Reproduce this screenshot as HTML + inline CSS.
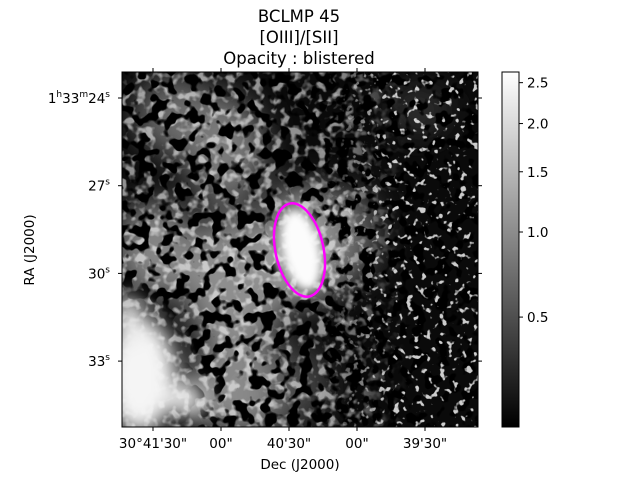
<!DOCTYPE html>
<html><head><meta charset="utf-8"><style>
body{margin:0;background:#fff;}
svg text{font-family:"DejaVu Sans","Liberation Sans",sans-serif;fill:#000;}
</style></head><body>
<svg id="fig" width="640" height="480" viewBox="0 0 640 480" xmlns="http://www.w3.org/2000/svg">
<defs>
<filter id="blur" x="-30%" y="-30%" width="160%" height="160%"><feGaussianBlur stdDeviation="16"/></filter>
<filter id="blur2" x="-30%" y="-30%" width="160%" height="160%"><feGaussianBlur stdDeviation="10"/></filter>
<filter id="blur3" x="-30%" y="-30%" width="160%" height="160%"><feGaussianBlur stdDeviation="4"/></filter>
<filter id="spots" x="0" y="0" width="100%" height="100%">
<feTurbulence type="fractalNoise" baseFrequency="0.08" numOctaves="2" seed="7" result="n"/>
<feColorMatrix in="n" type="matrix" values="0 0 0 0 0  0 0 0 0 0  0 0 0 0 0  0 0 0 -12 5.8"/>
</filter>
<filter id="mottle" x="0" y="0" width="100%" height="100%">
<feTurbulence type="fractalNoise" baseFrequency="0.11" numOctaves="2" seed="11" result="n"/>
<feColorMatrix in="n" type="matrix" values="0 0 0 0 1  0 0 0 0 1  0 0 0 0 1  0 0 0 5 -2.4"/>
</filter>
<filter id="flecks" x="0" y="0" width="100%" height="100%">
<feTurbulence type="fractalNoise" baseFrequency="0.15" numOctaves="2" seed="3" result="n"/>
<feColorMatrix in="n" type="matrix" values="0 0 0 0 1  0 0 0 0 1  0 0 0 0 1  0 0 0 10 -6.2"/>
</filter>
<radialGradient id="maskgrad" cx="0.5" cy="0.5" r="0.5">
<stop offset="0" stop-color="#000"/><stop offset="0.7" stop-color="#000"/><stop offset="1" stop-color="#fff"/>
</radialGradient>
<linearGradient id="fleckgrad" x1="0" y1="0" x2="1" y2="0">
<stop offset="0" stop-color="#000"/><stop offset="0.55" stop-color="#000"/><stop offset="0.75" stop-color="#fff"/><stop offset="1" stop-color="#fff"/>
</linearGradient>
<linearGradient id="mottlegrad" x1="0" y1="0" x2="1" y2="0">
<stop offset="0" stop-color="#fff"/><stop offset="0.6" stop-color="#fff"/><stop offset="0.8" stop-color="#000"/>
</linearGradient>
<mask id="spotmask" maskUnits="userSpaceOnUse" x="122" y="72" width="356" height="355">
<rect x="122" y="72" width="356" height="355" fill="#fff"/>
<ellipse cx="140" cy="380" rx="60" ry="85" fill="url(#maskgrad)"/>
<ellipse cx="300" cy="250" rx="32" ry="55" transform="rotate(-12 300 250)" fill="url(#maskgrad)"/>
</mask>
<mask id="fleckmask" maskUnits="userSpaceOnUse" x="122" y="72" width="356" height="355">
<rect x="122" y="72" width="356" height="355" fill="url(#fleckgrad)"/>
</mask>
<mask id="mottlemask" maskUnits="userSpaceOnUse" x="122" y="72" width="356" height="355">
<rect x="122" y="72" width="356" height="355" fill="url(#mottlegrad)"/>
</mask>
<linearGradient id="cbar" x1="0" y1="1" x2="0" y2="0">
<stop offset="0" stop-color="#000"/><stop offset="1" stop-color="#fff"/>
</linearGradient>
<clipPath id="axclip"><rect x="122" y="72" width="356" height="355"/></clipPath>
</defs>

<text x="299" y="22" text-anchor="middle" font-size="16.5">BCLMP 45</text>
<text x="299" y="43" text-anchor="middle" font-size="16.5">[OIII]/[SII]</text>
<text x="299" y="64" text-anchor="middle" font-size="16.5">Opacity : blistered</text>

<g clip-path="url(#axclip)">
<rect x="122" y="72" width="356" height="355" fill="#0a0a0a"/>
<g filter="url(#blur)">
<ellipse cx="175" cy="115" rx="40" ry="40" fill="#6a6a6a"/>
<ellipse cx="225" cy="150" rx="40" ry="55" fill="#7a7a7a"/>
<ellipse cx="155" cy="250" rx="40" ry="50" fill="#858585"/>
<ellipse cx="235" cy="285" rx="50" ry="70" fill="#8e8e8e"/>
<ellipse cx="305" cy="245" rx="45" ry="60" fill="#9a9a9a"/>
<ellipse cx="355" cy="235" rx="22" ry="45" fill="#666"/>
<ellipse cx="240" cy="390" rx="55" ry="45" fill="#8a8a8a"/>
<ellipse cx="300" cy="385" rx="30" ry="40" fill="#444"/>
<ellipse cx="420" cy="110" rx="30" ry="25" fill="#333"/>
</g>
<rect x="122" y="72" width="356" height="355" filter="url(#mottle)" mask="url(#mottlemask)" opacity="0.55"/>
<rect x="122" y="72" width="356" height="355" filter="url(#spots)" mask="url(#spotmask)"/>
<rect x="122" y="72" width="356" height="355" filter="url(#flecks)" mask="url(#fleckmask)" opacity="0.8"/>
<g filter="url(#blur2)">
<ellipse cx="140" cy="375" rx="36" ry="58" fill="#f5f5f5"/>
<ellipse cx="128" cy="320" rx="14" ry="25" fill="#e8e8e8"/>
<ellipse cx="188" cy="400" rx="18" ry="15" fill="#eeeeee"/>
</g>
<ellipse cx="301" cy="250" rx="18" ry="40" transform="rotate(-12 301 250)" fill="#fcfcfc" filter="url(#blur3)"/>
</g>
<ellipse cx="299.5" cy="250" rx="24" ry="47.5" transform="rotate(-12 299.5 250)" fill="none" stroke="#ff00ff" stroke-width="2.5"/>
<rect x="122" y="72" width="356" height="355" fill="none" stroke="#000" stroke-width="1"/>
<g id="xticks"></g>
<g id="yticks"></g>
<text x="300" y="469" text-anchor="middle" font-size="13.5">Dec (J2000)</text>
<text transform="translate(34 250) rotate(-90)" text-anchor="middle" font-size="13.5">RA (J2000)</text>

<rect x="502" y="72" width="17" height="355" fill="url(#cbar)" stroke="#000" stroke-width="1"/>
<g id="cticks"></g>
</svg>
<script>
const xTickLabels = ["30°41'30\"", "00\"", "40'30\"", "00\"", "39'30\""];
const xTickPos = [0, 1, 2, 3, 4];
const yTickLabels = ["24", "27", "30", "33"];
const cbarValues = [2.5, 2.0, 1.5, 1.0, 0.5];
const cbarLabels = ["2.5", "2.0", "1.5", "1.0", "0.5"];
const NS = "http://www.w3.org/2000/svg";
function mk(tag, attrs, parent) { const e = document.createElementNS(NS, tag); for (const k in attrs) e.setAttribute(k, attrs[k]); parent.appendChild(e); return e; }
const xScale = i => 153 + i * 68;
const yScale = i => 98 + i * 87.7;
const cScale = v => 232 - (Math.pow(v, 0.35) - 1) * 395;
const gx = document.getElementById('xticks');
xTickPos.forEach((p, i) => {
  const x = xScale(p);
  mk('line', {x1: x, y1: 427, x2: x, y2: 431, stroke: '#000'}, gx);
  mk('line', {x1: x, y1: 72, x2: x, y2: 68, stroke: '#000'}, gx);
  const t = mk('text', {x: x, y: 448, 'text-anchor': 'middle', 'font-size': 13.5}, gx);
  t.textContent = xTickLabels[i];
  
  
});
const gy = document.getElementById('yticks');
yTickLabels.forEach((s, i) => {
  const y = yScale(i);
  mk('line', {x1: 122, y1: y, x2: 118, y2: y, stroke: '#000'}, gy);
  mk('line', {x1: 478, y1: y, x2: 482, y2: y, stroke: '#000'}, gy);
  const t = mk('text', {x: 110, y: y + 5, 'text-anchor': 'end', 'font-size': 13.5}, gy);
  if (i === 0) {
    t.innerHTML = '1<tspan dy="-6" font-size="9">h</tspan><tspan dy="6">33</tspan><tspan dy="-6" font-size="9">m</tspan><tspan dy="6">' + s + '</tspan><tspan dy="-6" font-size="9">s</tspan>';
  } else {
    t.innerHTML = s + '<tspan dy="-6" font-size="9">s</tspan>';
  }
  
  
});
const gc = document.getElementById('cticks');
cbarValues.forEach((v, i) => {
  const y = cScale(v);
  mk('line', {x1: 519, y1: y, x2: 523, y2: y, stroke: '#000'}, gc);
  const t = mk('text', {x: 527, y: y + 5, 'font-size': 13.5}, gc);
  t.textContent = cbarLabels[i];
  
  
});
</script>
</body></html>
